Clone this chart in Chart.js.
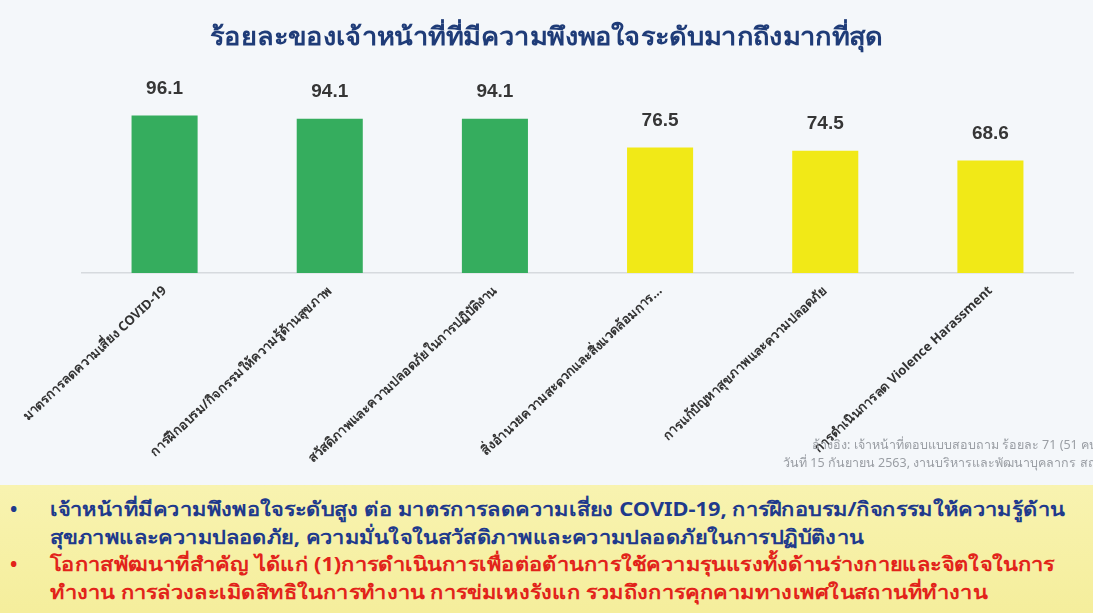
<!DOCTYPE html>
<html lang="th">
<head>
<meta charset="utf-8">
<script src="https://cdn.jsdelivr.net/npm/chart.js@4/dist/chart.umd.min.js"></script>
<style>
  html, body { margin: 0; padding: 0; }
  body {
    width: 1093px; height: 613px; overflow: hidden; position: relative;
    background: #f4f7fa;
    font-family: "Noto Sans", "DejaVu Sans", "Liberation Sans", sans-serif;
  }
  #title {
    position: absolute; left: 0; top: 16px; width: 1093px; text-align: center;
    font-size: 25px; font-weight: bold; color: #1f3c78;
    transform: scaleX(1.09); transform-origin: 546px 0;
  }
  #chartBox { position: absolute; left: 0; top: 0; width: 1093px; height: 487px; }
  .source {
    position: absolute; font-size: 12.5px; color: #9a9ea4; white-space: nowrap;
  }
  #notes {
    position: absolute; left: 0; top: 485px; width: 1093px; height: 128px;
    background: linear-gradient(#f8f3b0, #f5ee9c);
    font-size: 19.5px; font-weight: bold; line-height: 27.5px;
  }
  #notes .item { position: relative; padding-left: 50px; }
  #notes .item::before {
    content: "•"; position: absolute; left: 10px; top: 0;
  }
  #notes .text {
    display: inline-block; white-space: nowrap;
    transform: scaleX(1.118); transform-origin: 0 0;
  }
  #notes .blue { color: #1f3a8c; margin-top: 10px; }
  #notes .red  { color: #e2231a; }
</style>
</head>
<body>
<div id="chartBox"><canvas id="chart"></canvas></div>
<div id="title">ร้อยละของเจ้าหน้าที่ที่มีความพึงพอใจระดับมากถึงมากที่สุด</div>
<div class="source" style="left:812px; top:435px;">อ้างอิง: เจ้าหน้าที่ตอบแบบสอบถาม ร้อยละ 71 (51 คน)</div>
<div class="source" style="left:783px; top:453px;">วันที่ 15 กันยายน 2563, งานบริหารและพัฒนาบุคลากร สถาบัน</div>
<div id="notes">
  <div class="item blue"><span class="text">เจ้าหน้าที่มีความพึงพอใจระดับสูง ต่อ มาตรการลดความเสี่ยง COVID-19, การฝึกอบรม/กิจกรรมให้ความรู้ด้าน<br>สุขภาพและความปลอดภัย, ความมั่นใจในสวัสดิภาพและความปลอดภัยในการปฏิบัติงาน</span></div>
  <div class="item red"><span class="text">โอกาสพัฒนาที่สำคัญ ได้แก่ (1)การดำเนินการเพื่อต่อต้านการใช้ความรุนแรงทั้งด้านร่างกายและจิตใจในการ<br>ทำงาน การล่วงละเมิดสิทธิในการทำงาน การข่มเหงรังแก รวมถึงการคุกคามทางเพศในสถานที่ทำงาน</span></div>
</div>
<script>
// percent of staff satisfied at "high" to "highest" level
const categories = [
  'มาตรการลดความเสี่ยง COVID-19',
  'การฝึกอบรม/กิจกรรมให้ความรู้ด้านสุขภาพ',
  'สวัสดิภาพและความปลอดภัยในการปฏิบัติงาน',
  'สิ่งอำนวยความสะดวกและสิ่งแวดล้อมการ...',
  'การแก้ปัญหาสุขภาพและความปลอดภัย',
  'การดำเนินการลด Violence Harassment',
]
const satisfied = [96.1, 94.1, 94.1, 76.5, 74.5, 68.6]

const HIGH = '#35ad5e'
const MID  = '#f1e917'

const valueLabels = {
  id: 'valueLabels',
  afterDatasetsDraw(chart) {
    const { ctx } = chart
    const meta = chart.getDatasetMeta(0)
    ctx.save()
    ctx.font = 'bold 19px "Liberation Sans", Arial, sans-serif'
    ctx.fillStyle = '#363636'
    ctx.textAlign = 'center'
    ctx.textBaseline = 'middle'
    meta.data.forEach((bar, i) => {
      ctx.fillText(satisfied[i].toFixed(1), bar.x, bar.y - 27)
    })
    ctx.restore()
  },
}

new Chart(document.getElementById('chart'), {
  type: 'bar',
  data: {
    labels: categories,
    datasets: [{
      data: satisfied,
      backgroundColor: satisfied.map(v => v >= 90 ? HIGH : MID),
      categoryPercentage: 1,
      barPercentage: 0.4,
    }],
  },
  options: {
    responsive: true,
    maintainAspectRatio: false,
    animation: false,
    layout: { padding: { left: 82, right: 20, top: 109, bottom: 14 } },
    plugins: {
      legend: { display: false },
      tooltip: { enabled: false },
    },
    scales: {
      x: {
        grid: { display: false },
        border: { display: true, color: '#d6dade', width: 1.5 },
        ticks: {
          color: '#333333',
          font: { size: 13, weight: 'bold', family: '"Noto Sans", "DejaVu Sans", sans-serif' },
          minRotation: 43,
          maxRotation: 43,
          autoSkip: false,
          padding: 2,
        },
        afterFit: s => { s.height = 200 },
      },
      y: {
        display: false,
        min: 0,
        max: 100,
      },
    },
  },
  plugins: [valueLabels],
})
</script>
</body>
</html>
